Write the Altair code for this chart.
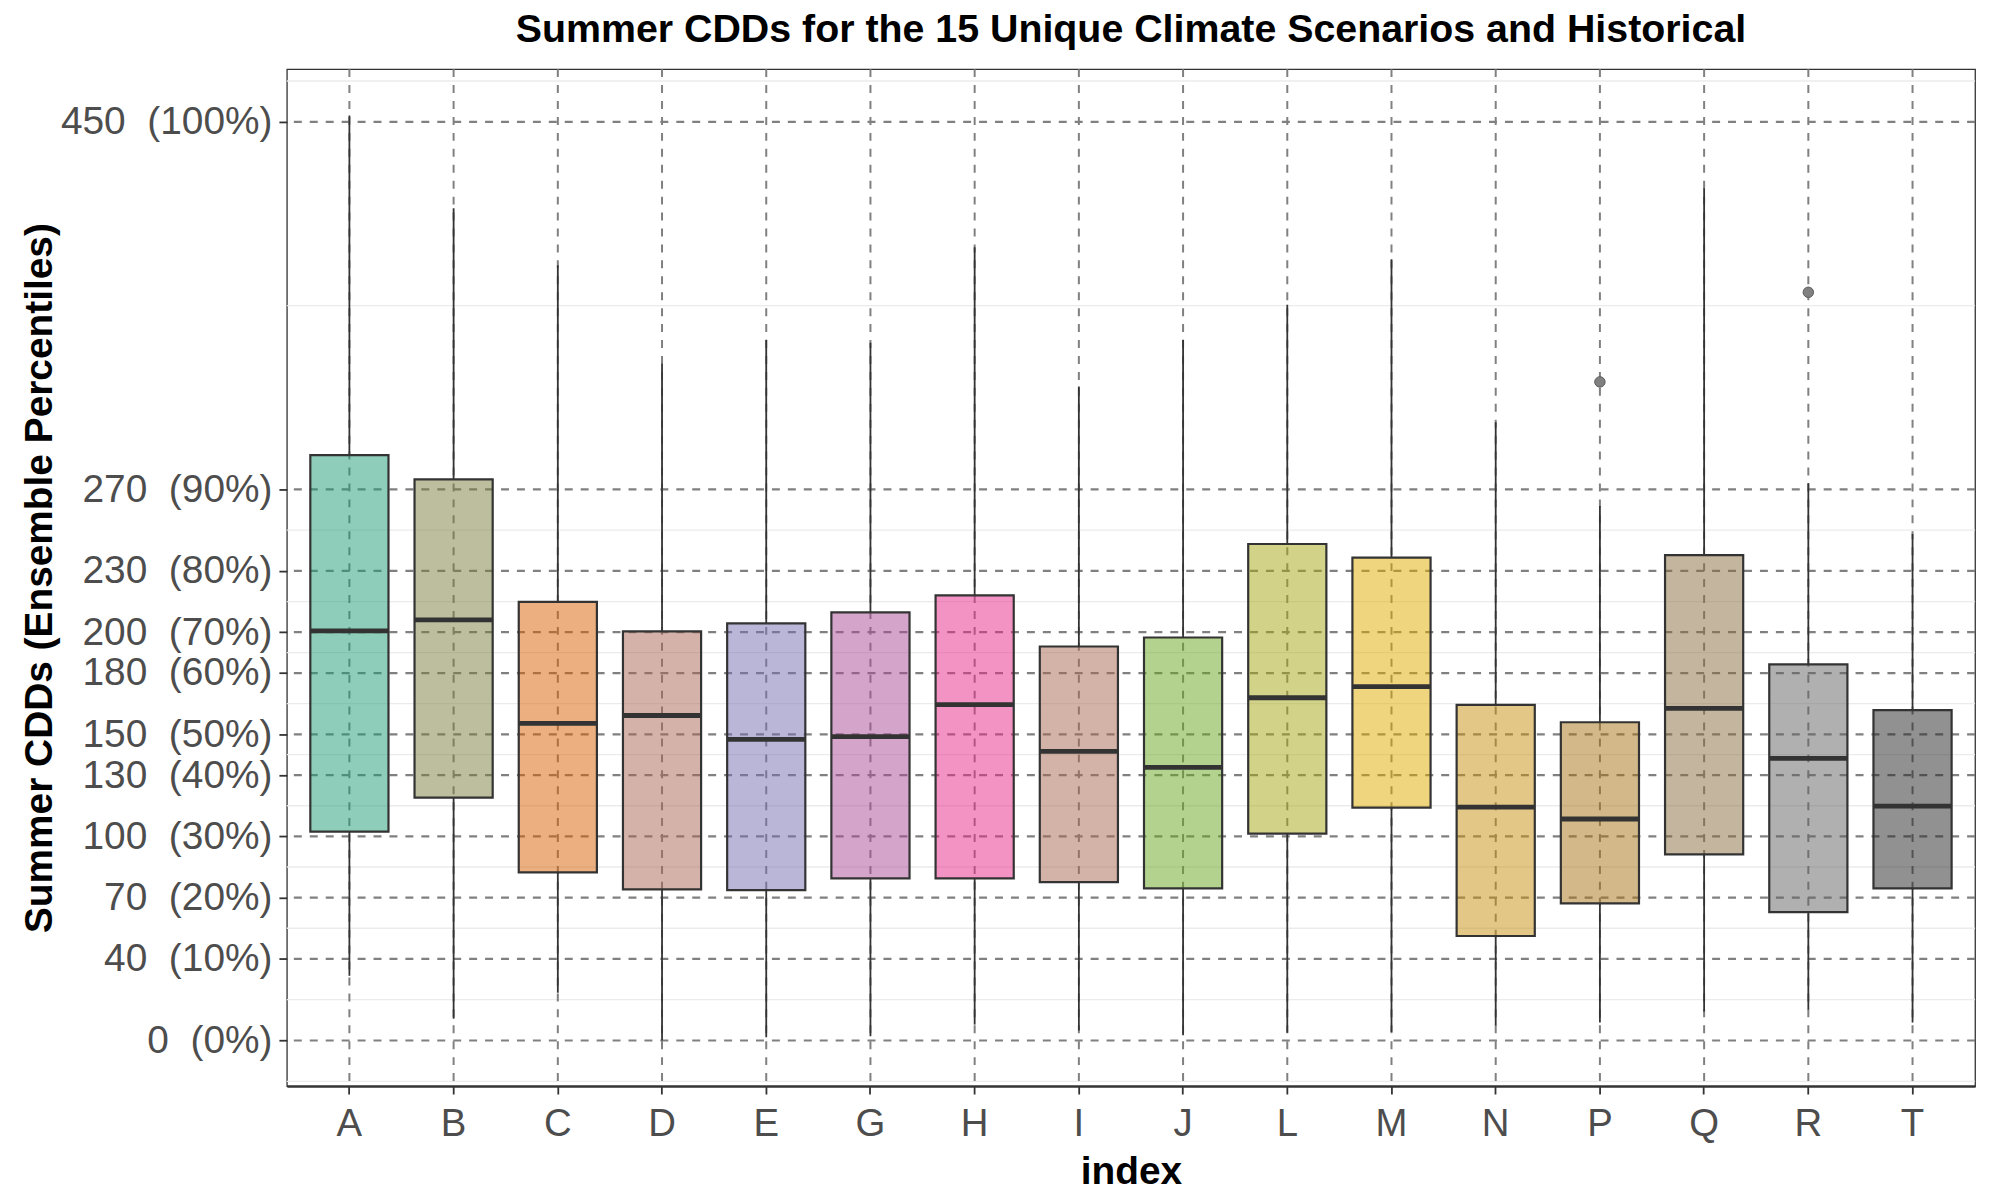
import altair as alt
import pandas as pd

# ---- data ----
cats = ["A", "B", "C", "D", "E", "G", "H", "I", "J", "L", "M", "N", "P", "Q", "R", "T"]
colors = ["#1D9B73", "#7B7D3B", "#D75F01", "#A96555", "#736DB1", "#AB4997", "#E72787", "#A76551",
          "#67A51B", "#A5A711", "#E1AB00", "#C58F0D", "#A77115", "#896D3D", "#616161", "#232323"]
whisker_low = [31.7, 10.7, 23.4, 0.0, 1.6, 2.1, 7.8, 4.9, 2.6, 3.8, 4.2, 7.3, 8.8, 14.2, 15.1, 8.8]
q1 = [102.3, 119.0, 82.4, 74.0, 73.7, 79.4, 79.4, 77.6, 74.5, 101.3, 114.1, 51.2, 67.2, 91.2, 62.9, 74.5]
median = [200.6, 206.0, 155.3, 159.2, 147.5, 148.9, 164.5, 141.6, 133.8, 167.9, 173.3, 114.3, 108.5, 162.7, 138.2, 114.8]
q3 = [286.7, 274.9, 214.9, 200.4, 204.3, 209.7, 218.0, 193.0, 197.4, 243.2, 236.5, 164.4, 155.9, 237.8, 184.2, 161.8]
whisker_high = [453.1, 407.7, 379.8, 331.5, 343.2, 341.8, 388.6, 320.3, 343.2, 360.4, 382.7, 302.8, 261.8, 417.5, 273.0, 248.1]
outlier_cat = ["P", "R"]
outlier_val = [322.6, 366.5]
ybreaks = [0, 40, 70, 100, 130, 150, 180, 200, 230, 270, 450]
ypct = ["0%", "10%", "20%", "30%", "40%", "50%", "60%", "70%", "80%", "90%", "100%"]
yminor = [-20, 20, 55, 85, 115, 140, 165, 190, 215, 250, 360, 470]
title_text = ["Summer CDDs for the 15 Unique Climate Scenarios and Historical"]

df = pd.DataFrame({"cat": cats, "lo": whisker_low, "q1": q1, "med": median, "q3": q3, "hi": whisker_high})
out_df = pd.DataFrame({"cat": outlier_cat, "val": outlier_val})
minor_df = pd.DataFrame({"v": yminor})
major_df = pd.DataFrame({"v": ybreaks})
cat_df = pd.DataFrame({"cat": cats})
title_df = pd.DataFrame({"t": title_text})

NB = "\u00a0\u00a0"
label_expr = ""
for v, p in zip(ybreaks, ypct):
    label_expr += f"datum.value == {v} ? '{v}{NB}({p})' : "
label_expr += "''"

FONT = "Liberation Sans"
PLOT_W, PLOT_H = 1695, 1021
xscale = alt.Scale(domain=cats, paddingInner=0.25, paddingOuter=0.225)
yscale = alt.Scale(domain=[-22.3, 475.8], nice=False, zero=False)

xaxis = alt.Axis(
    title="index", titleFontSize=39, titleFontWeight="bold", titleColor="black", titleFont=FONT,
    titleBaseline="alphabetic", titleY=98,
    labelFontSize=38.5, labelColor="#4D4D4D", labelFont=FONT, labelAngle=0,
    labelBaseline="alphabetic", labelPadding=42, labelLimit=0,
    ticks=True, tickSize=8, tickColor="#333333", tickWidth=1.8, bandPosition=0.5,
    domain=True, domainColor="#333333", domainWidth=2.2, grid=False,
)
yaxis = alt.Axis(
    title="Summer CDDs (Ensemble Percentiles)", titleFontSize=39, titleFontWeight="bold",
    titleColor="black", titleFont=FONT, titleAngle=270, titleAlign="center",
    titleBaseline="alphabetic", titleX=-236, titleY=PLOT_H / 2, titleLimit=0,
    values=ybreaks, labelExpr=label_expr, labelFontSize=39, labelColor="#4D4D4D",
    labelFont=FONT, labelPadding=7, labelLimit=0,
    ticks=True, tickSize=8, tickColor="#333333", tickWidth=1.8,
    domain=False, grid=False,
)


def X():
    return alt.X("cat:N", scale=xscale, axis=xaxis, sort=cats)


def Y(field):
    return alt.Y(field, type="quantitative", scale=yscale, axis=yaxis)


minor_layer = alt.Chart(minor_df).mark_rule(color="#EBEBEB", strokeWidth=1.3).encode(y=Y("v"))
major_layer = alt.Chart(major_df).mark_rule(
    color="#808080", strokeWidth=2.2, strokeDash=[8, 8]
).encode(y=Y("v"))
xgrid_layer = alt.Chart(cat_df).mark_rule(
    color="#808080", strokeWidth=2.0, strokeDash=[8, 8]
).encode(x=X())

lower_whisker = alt.Chart(df).mark_rule(color="#333333", strokeWidth=1.8).encode(
    x=X(), y=Y("lo"), y2="q1"
)
upper_whisker = alt.Chart(df).mark_rule(color="#333333", strokeWidth=1.8).encode(
    x=X(), y=Y("q3"), y2="hi"
)
boxes = alt.Chart(df).mark_bar(
    fillOpacity=0.5, stroke="#333333", strokeWidth=2.2, strokeOpacity=1
).encode(
    x=X(), y=Y("q1"), y2="q3",
    fill=alt.Fill("cat:N", scale=alt.Scale(domain=cats, range=colors), legend=None),
)
medians = alt.Chart(df).mark_tick(
    orient="horizontal", size=78.5, thickness=4.8, color="#333333", opacity=1
).encode(x=X(), y=Y("med"))
outliers = alt.Chart(out_df).mark_point(
    shape="circle", filled=True, size=110, fill="#808080", stroke="#5a5a5a", strokeWidth=1, opacity=1
).encode(x=X(), y=Y("val"))

title_layer = alt.Chart(title_df).mark_text(
    font=FONT, fontSize=39.5, fontWeight="bold", color="black", align="center", baseline="alphabetic"
).encode(text="t:N", x=alt.value(PLOT_W / 2), y=alt.value(-27.5))

chart = alt.layer(
    minor_layer, major_layer, xgrid_layer, lower_whisker, upper_whisker, boxes, medians, outliers,
    title_layer,
).properties(
    width=PLOT_W, height=PLOT_H,
    background="white",
    autosize=alt.AutoSizeParams(type="none"),
    padding={"left": 280, "top": 59, "right": 17, "bottom": 104},
).configure_view(
    stroke="#333333", strokeWidth=1.3
)

chart.save("out.html", embed_options={"renderer": "svg", "actions": False})
